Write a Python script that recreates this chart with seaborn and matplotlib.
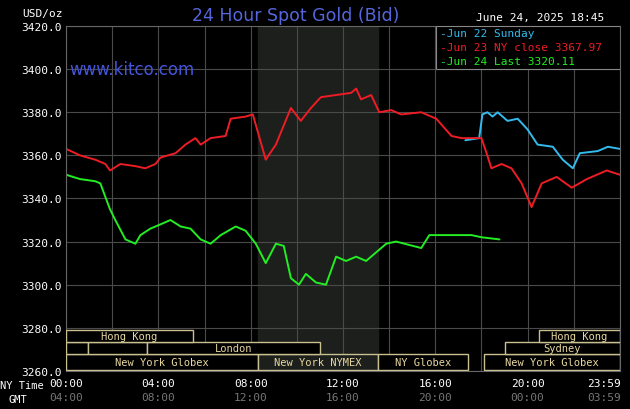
import matplotlib
matplotlib.use("Agg")
import matplotlib.pyplot as plt
import matplotlib.transforms as mtransforms
from matplotlib.patches import Rectangle
import seaborn as sns
import pandas as pd

# ---- data (hours since 00:00 NY time, USD/oz) ----
red_x = [0.0, 0.6, 1.26, 1.7, 1.9, 2.35, 3.0, 3.43, 3.87, 4.09, 4.74, 5.17, 5.6, 5.83, 6.26, 6.91, 7.13, 7.78, 8.09, 8.65, 9.09, 9.74, 10.17, 10.61, 11.04, 11.7, 12.35, 12.57, 12.78, 13.22, 13.57, 14.09, 14.52, 15.39, 16.04, 16.7, 17.13, 18.0, 18.22, 18.43, 18.87, 19.3, 19.74, 20.17, 20.61, 21.26, 21.91, 22.57, 23.43, 24.0]
red_y = [3363, 3360, 3358, 3356, 3353, 3356, 3355, 3354, 3356, 3359, 3361, 3365, 3368, 3365, 3368, 3369, 3377, 3378, 3379, 3358, 3365, 3382, 3376, 3382, 3387, 3388, 3389, 3391, 3386, 3388, 3380, 3381, 3379, 3380, 3377, 3369, 3368, 3368, 3361, 3354, 3356, 3354, 3347, 3336, 3347, 3350, 3345, 3349, 3353, 3351]
green_x = [0.0, 0.6, 1.26, 1.48, 1.9, 2.13, 2.57, 3.0, 3.22, 3.65, 4.09, 4.52, 4.96, 5.39, 5.83, 6.26, 6.7, 7.35, 7.78, 8.22, 8.65, 9.09, 9.43, 9.74, 10.09, 10.39, 10.83, 11.26, 11.7, 12.13, 12.57, 13.0, 13.87, 14.3, 15.39, 15.74, 16.7, 17.57, 18.0, 18.78]
green_y = [3351, 3349, 3348, 3347, 3335, 3330, 3321, 3319, 3323, 3326, 3328, 3330, 3327, 3326, 3321, 3319, 3323, 3327, 3325, 3319, 3310, 3319, 3318, 3303, 3300, 3305, 3301, 3300, 3313, 3311, 3313, 3311, 3319, 3320, 3317, 3323, 3323, 3323, 3322, 3321]
blue_x = [17.3, 17.9, 18.04, 18.26, 18.48, 18.7, 19.13, 19.57, 20.0, 20.43, 21.09, 21.52, 21.96, 22.26, 23.04, 23.48, 24.0]
blue_y = [3367, 3368, 3379, 3380, 3378, 3380, 3376, 3377, 3372, 3365, 3364, 3358, 3354, 3361, 3362, 3364, 3363]

tick_hours = [0, 4, 8, 12, 16, 20, 24]
ny_labels = ["00:00", "04:00", "08:00", "12:00", "16:00", "20:00", "23:59"]
gmt_labels = ["04:00", "08:00", "12:00", "16:00", "20:00", "00:00", "03:59"]
y_ticks = [3260, 3280, 3300, 3320, 3340, 3360, 3380, 3400, 3420]

# sessions: (label, start, end, row)
sessions = [
    ("New York Globex", 0.0, 8.3, 0), ("New York NYMEX", 8.3, 13.5, 0),
    ("NY Globex", 13.5, 17.4, 0), ("New York Globex", 18.1, 24.0, 0),
    ("", 0.0, 0.95, 1), ("", 0.95, 3.5, 1), ("London", 3.5, 11.0, 1),
    ("Sydney", 19.0, 24.0, 1),
    ("Hong Kong", 0.0, 5.5, 2), ("Hong Kong", 20.5, 24.0, 2),
]

df = pd.concat([
    pd.DataFrame({"h": blue_x, "v": blue_y, "s": "Jun 22"}),
    pd.DataFrame({"h": red_x, "v": red_y, "s": "Jun 23"}),
    pd.DataFrame({"h": green_x, "v": green_y, "s": "Jun 24"}),
])

sns.set_style("dark")
plt.rcParams["font.family"] = ["DejaVu Sans Mono"]
fig = plt.figure(figsize=(6.3, 4.1), dpi=100, facecolor="black")
ax = fig.add_axes([0.105, 0.093, 0.879, 0.841], facecolor="black")

ax.axvspan(8.3, 13.5, color="#1c1f1c", zorder=0)
sns.lineplot(data=df, x="h", y="v", hue="s", ax=ax, legend=False,
             palette={"Jun 22": "#33bbee", "Jun 23": "#ee1c25", "Jun 24": "#22ee22"},
             linewidth=1.4, estimator=None, sort=False)

ax.set_xlim(0, 24)
ax.set_ylim(3260, 3420)
ax.set_xticks(range(0, 25, 2))
ax.set_yticks(y_ticks)
ax.set_xticklabels([])
ax.set_yticklabels([f"{t:.1f}" for t in y_ticks], color="white", fontsize=8)
ax.tick_params(length=0, pad=3)
ax.grid(True, color="#4a4a4a", linewidth=0.8)
for sp in ax.spines.values():
    sp.set_color("#666666")
ax.set_xlabel(""); ax.set_ylabel("")

# session boxes
rows = [(3260.6, 3268.0), (3268.0, 3273.5), (3273.5, 3279.0)]
for lab, s, e, r in sessions:
    y0, y1 = rows[r]
    ax.add_patch(Rectangle((s, y0), e - s, y1 - y0, facecolor="black" if lab != "New York NYMEX" else "#1c1f1c",
                           edgecolor="#c8c090", linewidth=1.0, zorder=3))
    if lab:
        ax.text((s + e) / 2, (y0 + y1) / 2, lab, color="#e8d8a0", fontsize=7.5,
                ha="center", va="center", zorder=4)

trans = mtransforms.blended_transform_factory(ax.transData, ax.transAxes)
for h, a, b in zip(tick_hours, ny_labels, gmt_labels):
    ha = "right" if h == 24 else "center"
    hx = 24.05 if h == 24 else h
    ax.text(hx, -0.035, a, transform=trans, color="white", fontsize=8, ha=ha, va="center")
    ax.text(hx, -0.075, b, transform=trans, color="#777777", fontsize=8, ha=ha, va="center")
fig.text(0.0, 0.058, "NY Time", color="white", fontsize=7.5, va="center")
fig.text(0.013, 0.024, "GMT", color="white", fontsize=7.5, va="center")

fig.text(0.035, 0.966, "USD/oz", color="white", fontsize=8, va="center")
fig.text(0.47, 0.962, "24 Hour Spot Gold (Bid)", color="#5566dd", fontsize=12.5,
         ha="center", va="center", family="DejaVu Sans")
fig.text(0.755, 0.955, "June 24, 2025 18:45", color="white", fontsize=8, va="center")
ax.text(0.005, 0.875, "www.kitco.com", transform=ax.transAxes, color="#4455dd",
        fontsize=12, family="DejaVu Sans", va="center")

# legend box
ax.add_patch(Rectangle((0.667, 0.875), 0.333, 0.125, transform=ax.transAxes,
                       facecolor="black", edgecolor="#888888", linewidth=0.8, zorder=5))
for i, (t, c) in enumerate([("-Jun 22 Sunday", "#33bbee"),
                            ("-Jun 23 NY close 3367.97", "#ee1c25"),
                            ("-Jun 24 Last 3320.11", "#22ee22")]):
    ax.text(0.675, 0.98 - i * 0.04, t, transform=ax.transAxes, color=c, fontsize=8,
            va="center", zorder=6)

fig.savefig("out.png", dpi=100, facecolor="black")
